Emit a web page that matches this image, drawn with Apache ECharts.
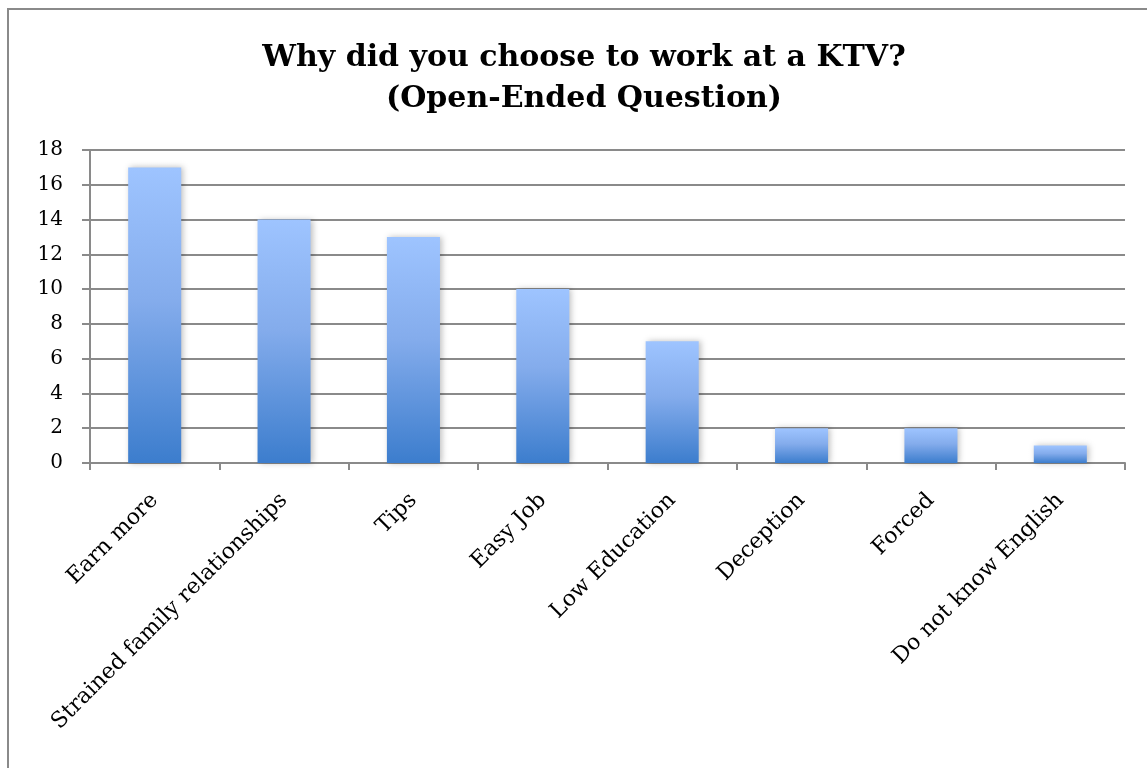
<!DOCTYPE html>
<html>
<head>
<meta charset="utf-8">
<script src="https://cdn.jsdelivr.net/npm/echarts@6/dist/echarts.min.js"></script>
<style>
  html, body { margin: 0; padding: 0; background: #ffffff; overflow: hidden; }
  #frame {
    position: absolute; left: 7px; top: 8px;
    width: 1150px; height: 770px;
    border-left: 2px solid #8a8a8a; border-top: 2px solid #8a8a8a;
  }
  #chart { width: 1150px; height: 770px; }
</style>
</head>
<body>
<div id="frame"><div id="chart"></div></div>
<script>
// Survey answers: reasons for choosing to work at a KTV
const categories = [
  'Earn more',
  'Strained family relationships',
  'Tips',
  'Easy Job',
  'Low Education',
  'Deception',
  'Forced',
  'Do not know English'
];
const counts = [17, 14, 13, 10, 7, 2, 2, 1];
const titleLines = ['Why did you choose to work at a KTV?', '(Open-Ended Question)'];
const yTicks = { min: 0, max: 18, interval: 2 };

const serif = '"DejaVu Serif", "Liberation Serif", serif';
const chart = echarts.init(document.getElementById('chart'));

chart.setOption({
  animation: false,
  backgroundColor: '#ffffff',
  title: {
    text: titleLines.join('\n'),
    left: 'center',
    top: 23,
    textStyle: {
      fontFamily: serif,
      fontWeight: 'bold',
      fontSize: 30,
      lineHeight: 41,
      color: '#000000'
    }
  },
  grid: { left: 81, right: 34, top: 140, bottom: 317 },
  xAxis: {
    type: 'category',
    data: categories,
    axisLine: { show: true, lineStyle: { color: '#8a8a8a', width: 2 } },
    axisTick: { show: true, alignWithLabel: false, length: 7, lineStyle: { color: '#8a8a8a', width: 2 } },
    axisLabel: {
      interval: 0,
      rotate: 45,
      margin: 34,
      fontFamily: serif,
      fontSize: 22,
      color: '#000000'
    },
    splitLine: { show: false }
  },
  yAxis: {
    type: 'value',
    min: yTicks.min,
    max: yTicks.max,
    interval: yTicks.interval,
    axisLine: { show: true, lineStyle: { color: '#8a8a8a', width: 2 } },
    axisTick: { show: true, length: 8, lineStyle: { color: '#8a8a8a', width: 2 } },
    axisLabel: {
      margin: 27,
      fontFamily: serif,
      fontSize: 20,
      color: '#000000'
    },
    splitLine: { show: true, lineStyle: { color: '#8a8a8a', width: 2 } }
  },
  series: [{
    type: 'bar',
    data: counts,
    barWidth: '41%',
    itemStyle: {
      color: new echarts.graphic.LinearGradient(0, 0, 0, 1, [
        { offset: 0, color: '#9ec4ff' },
        { offset: 0.45, color: '#84acec' },
        { offset: 1, color: '#3c7dcd' }
      ]),
      shadowColor: 'rgba(0,0,0,0.25)',
      shadowBlur: 6,
      shadowOffsetX: 2,
      shadowOffsetY: 0
    }
  }]
});
</script>
</body>
</html>
